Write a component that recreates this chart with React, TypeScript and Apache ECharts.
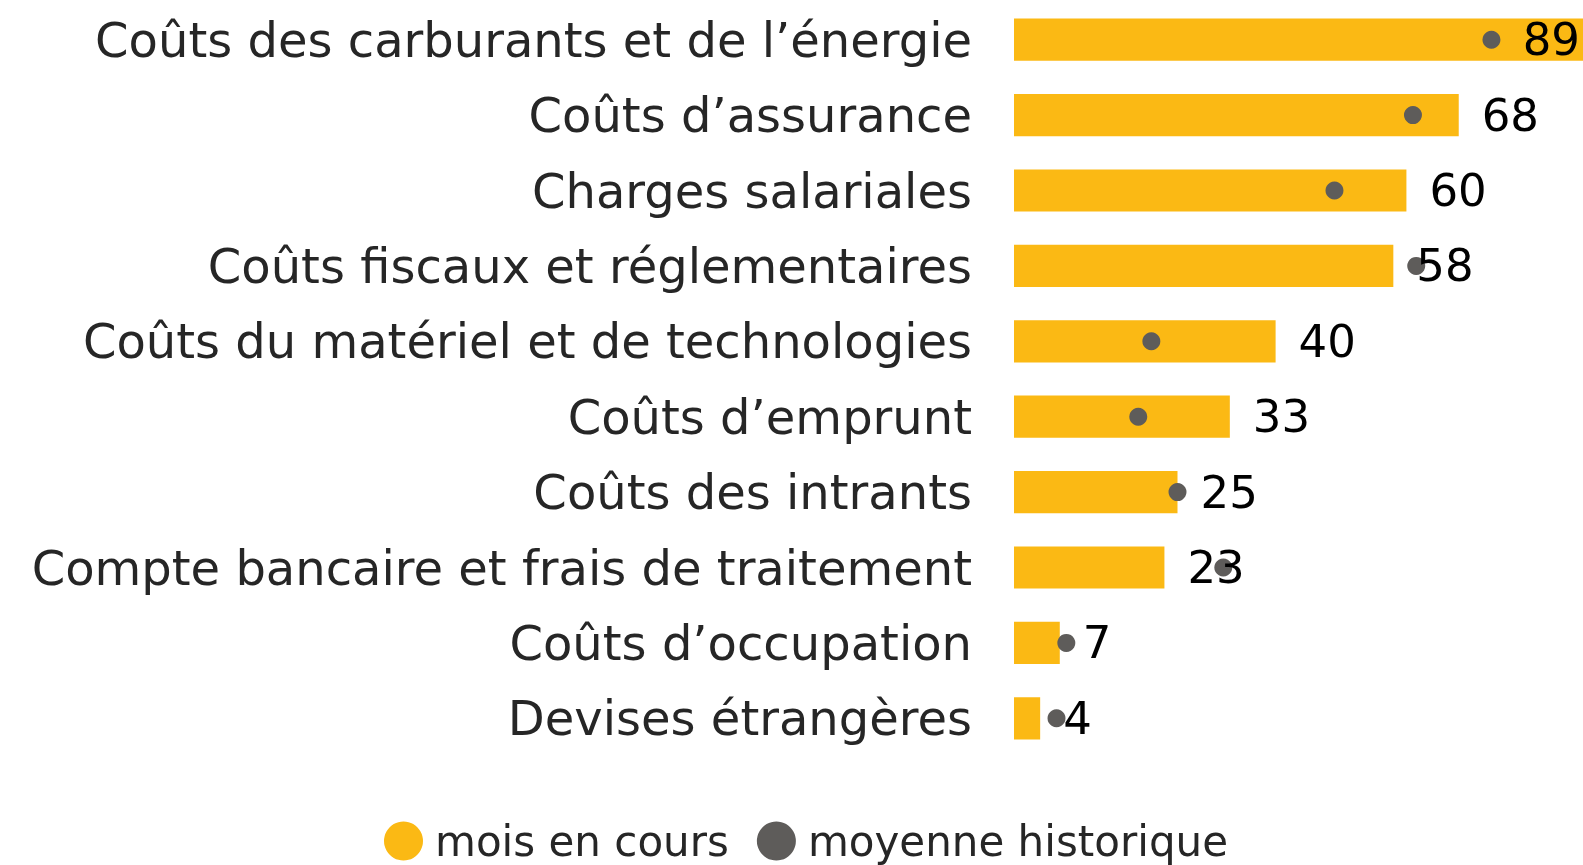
import React, { useEffect, useRef } from "react";
import * as echarts from "echarts";

const categories = [
  "Coûts des carburants et de l’énergie",
  "Coûts d’assurance",
  "Charges salariales",
  "Coûts fiscaux et réglementaires",
  "Coûts du matériel et de technologies",
  "Coûts d’emprunt",
  "Coûts des intrants",
  "Compte bancaire et frais de traitement",
  "Coûts d’occupation",
  "Devises étrangères",
];
const currentMonth = [89, 68, 60, 58, 40, 33, 25, 23, 7, 4];
const historicalAvg = [73, 61, 49, 61.5, 21, 19, 25, 32, 8, 6.5];

const seriesNames = ["mois en cours", "moyenne historique"];
const YELLOW = "#FBB914";
const GRAY = "#5E5C5A";
const FONT = "DejaVu Sans";

export default function App() {
  const ref = useRef<HTMLDivElement>(null);
  useEffect(() => {
    const chart = echarts.init(ref.current!, null, { renderer: "svg" });
    const cats = [...categories].reverse();
    const cur = [...currentMonth].reverse();
    const hist = [...historicalAvg].reverse();
    const AXIS_MAX = 87;
    chart.setOption({
      animation: false,
      textStyle: { fontFamily: FONT },
      grid: { left: 1014, right: 0, top: 2, height: 754, containLabel: false },
      xAxis: {
        type: "value",
        min: 0,
        max: AXIS_MAX,
        show: false,
      },
      yAxis: {
        type: "category",
        data: cats,
        axisLine: { show: false },
        axisTick: { show: false },
        splitLine: { show: false },
        axisLabel: {
          fontFamily: FONT,
          fontSize: 48,
          color: "#262626",
          margin: 42,
        },
      },
      legend: {
        data: seriesNames,
        top: 819,
        left: 384,
        padding: 0,
        icon: "circle",
        itemWidth: 39,
        itemHeight: 39,
        itemGap: 28,
        textStyle: {
          fontFamily: FONT,
          fontSize: 42,
          lineHeight: 44,
          color: "#262626",
          padding: [0, 0, 0, 7],
        },
      },
      series: [
        {
          name: seriesNames[0],
          type: "bar",
          data: cur,
          barCategoryGap: "44%",
          itemStyle: { color: YELLOW },
          z: 2,
        },
        {
          name: seriesNames[1],
          type: "scatter",
          data: hist,
          symbol: "circle",
          symbolSize: 18,
          itemStyle: { color: GRAY, opacity: 1 },
          z: 3,
        },
        {
          name: "labels",
          type: "bar",
          data: cur.map((v) =>
            v > AXIS_MAX
              ? { value: v, label: { position: "insideRight", distance: 3 } }
              : v
          ),
          barGap: "-100%",
          barCategoryGap: "44%",
          itemStyle: { color: "rgba(0,0,0,0)" },
          label: {
            show: true,
            position: "right",
            distance: 23,
            fontFamily: FONT,
            fontSize: 45,
            color: "#000",
          },
          z: 5,
          silent: true,
        },
      ],
    });
    return () => chart.dispose();
  }, []);
  return (
    <div
      ref={ref}
      style={{ position: "fixed", left: 0, top: 0, width: 1583, height: 865 }}
    />
  );
}
